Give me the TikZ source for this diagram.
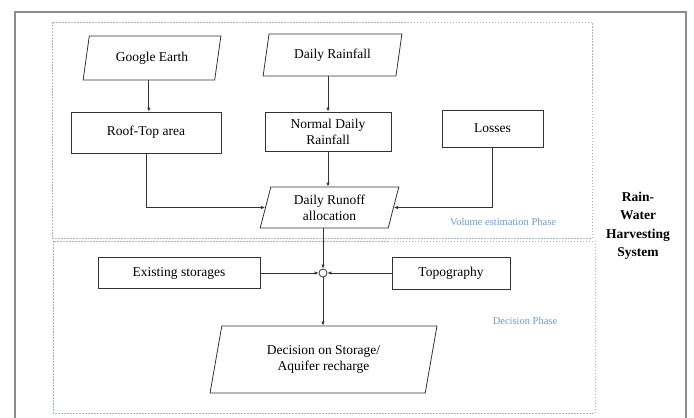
\documentclass[tikz,border=0pt]{standalone}
\usepackage{fontspec}
\setmainfont{Liberation Serif}
\usetikzlibrary{shapes.geometric,arrows.meta}
\definecolor{phaseline}{HTML}{A9B8C8}
\definecolor{phasetext}{HTML}{6A9BD0}
\tikzset{
  box/.style={draw=black!80,line width=0.8pt,rectangle,align=center,font=\fontsize{13.5}{16}\selectfont,inner sep=2pt},
  para/.style={draw=black!80,line width=0.8pt,trapezium,trapezium left angle=77,trapezium right angle=103,trapezium stretches=true,align=center,font=\fontsize{13.5}{16}\selectfont,inner sep=2pt},
  conn/.style={draw=black!80,line width=0.8pt,-{Latex[length=4pt,width=3.5pt]}},
  phase/.style={draw=phaseline,line width=0.8pt,dash pattern=on 1.5pt off 1.5pt},
  phaselabel/.style={text=phasetext,font=\fontsize{10.5}{12}\selectfont},
}
\begin{document}
\begin{tikzpicture}[x=1pt,y=-1pt]
\useasboundingbox (0,0) rectangle (694,418);
% outer frame
\draw[black!45,line width=1.4pt] (15,419) -- (15,12) -- (686,12) -- (686,419);
% phase boxes
\draw[phase] (52,22) rectangle (592,238);
\draw[phase] (53,241) rectangle (595,413);
\node[phaselabel] (vlab) at (503,222) {Volume estimation Phase};
\node[phaselabel] (dlab) at (525,321) {Decision Phase};
\node[align=center,font=\bfseries\fontsize{13.5}{18.5}\selectfont] (rwhs) at (638,226) {Rain-\\Water\\Harvesting\\System};
% nodes
\node[para,minimum width=138pt,minimum height=44pt] (ge) at (152,58) {Google Earth};
\node[para,minimum width=139pt,minimum height=42pt] (dr) at (332.5,55) {Daily Rainfall};
\node[box,minimum width=150pt,minimum height=41pt] (roof) at (146,132.5) {Roof-Top area};
\node[box,minimum width=126pt,minimum height=39pt] (ndr) at (328,131.5) {Normal Daily\\Rainfall};
\node[box,minimum width=101pt,minimum height=37pt] (loss) at (492.5,128.5) {Losses};
\node[para,minimum width=139pt,minimum height=41pt] (run) at (329.5,207.5) {Daily Runoff\\allocation};
\node[box,minimum width=162pt,minimum height=31pt] (exist) at (179,273) {Existing storages};
\node[box,minimum width=118pt,minimum height=32pt] (topo) at (451,273) {Topography};
\node[draw=black!80,line width=0.8pt,circle,minimum size=8pt,inner sep=0pt] (junc) at (323,273) {};
\node[para,trapezium left angle=78,trapezium right angle=102,minimum width=227pt,minimum height=67pt] (dec) at (323.5,359.5) {Decision on Storage/\\Aquifer recharge};
% connectors
\draw[conn] (ge.bottom side) -- (ge.bottom side |- roof.north);
\draw[conn] (dr.bottom side -| ndr.north) -- (ndr.north);
\draw[conn] (ndr.south) -- (ndr.south |- run.top side);
\draw[conn] (roof.south) |- (run.west);
\draw[conn] (loss.south) |- (run.east);
\draw[conn] (run.bottom side -| junc.north) -- (junc.north);
\draw[conn] (exist.east) -- (junc.west);
\draw[conn] (topo.west) -- (junc.east);
\draw[conn] (junc.south) -- (junc.south |- dec.top side);
\end{tikzpicture}
\end{document}
